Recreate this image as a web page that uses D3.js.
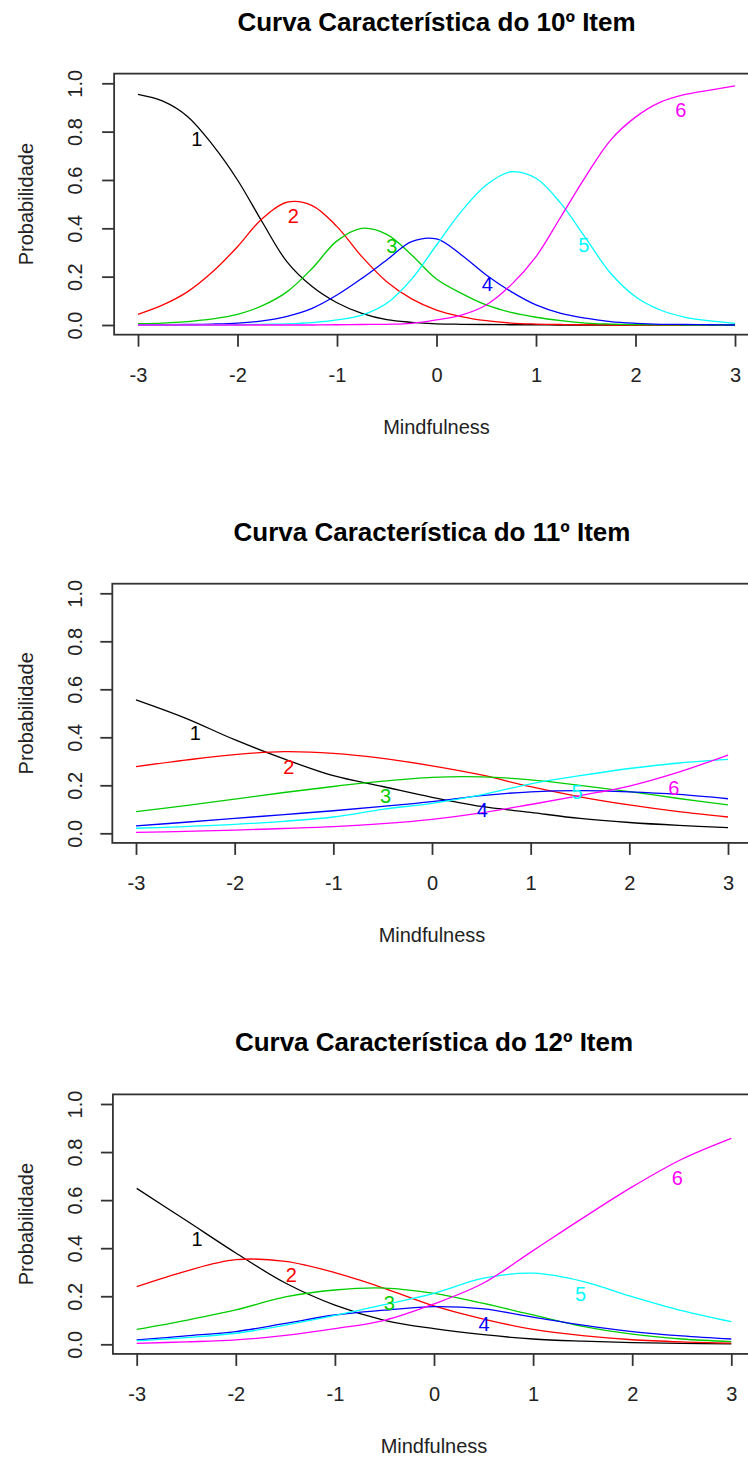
<!DOCTYPE html>
<html>
<head>
<meta charset="utf-8">
<script src="https://cdn.jsdelivr.net/npm/d3@7"></script>
<style>
  body { margin: 0; background: #fff; }
  svg text { font-family: "Liberation Sans", Arial, sans-serif; }
</style>
</head>
<body>
<script>
// ---------------------- DATA ----------------------

const categories = ["1", "2", "3", "4", "5", "6"];
const categoryColors = ["#000000", "#ff0000", "#00cd00", "#0000ff", "#00ffff", "#ff00ff"];
const thetaTicks = [-3, -2, -1, 0, 1, 2, 3];
const probTicks = [0, 0.2, 0.4, 0.6, 0.8, 1];
const probTickLabels = ["0.0", "0.2", "0.4", "0.6", "0.8", "1.0"];

const thetaFine = [-3, -2.75, -2.5, -2.25, -2, -1.75, -1.5, -1.25, -1, -0.75, -0.5, -0.25,
                   0, 0.25, 0.5, 0.75, 1, 1.25, 1.5, 1.75, 2, 2.25, 2.5, 2.75, 3];
const thetaCoarse = [-3, -2.5, -2, -1.5, -1, -0.5, 0, 0.5, 1, 1.5, 2, 2.5, 3];

// item 10, one row per category, read at thetaFine
const item10 = [
  [0.954, 0.926, 0.862, 0.745, 0.6, 0.425, 0.26, 0.159, 0.092, 0.048, 0.022, 0.011, 0.005, 0.003, 0.002, 0.001, 0.001, 0, 0, 0, 0, 0, 0, 0, 0],
  [0.044, 0.083, 0.138, 0.22, 0.324, 0.441, 0.508, 0.494, 0.407, 0.283, 0.179, 0.108, 0.062, 0.035, 0.018, 0.008, 0.004, 0.002, 0.001, 0, 0, 0, 0, 0, 0],
  [0.006, 0.008, 0.014, 0.025, 0.044, 0.08, 0.138, 0.234, 0.348, 0.40, 0.375, 0.29, 0.19, 0.131, 0.083, 0.052, 0.032, 0.018, 0.008, 0.004, 0.002, 0.001, 0, 0, 0],
  [0.001, 0.001, 0.002, 0.004, 0.008, 0.017, 0.036, 0.069, 0.124, 0.193, 0.269, 0.345, 0.356, 0.29, 0.207, 0.138, 0.083, 0.048, 0.028, 0.014, 0.007, 0.003, 0.002, 0.001, 0],
  [0, 0, 0, 0, 0.001, 0.003, 0.005, 0.01, 0.021, 0.041, 0.09, 0.19, 0.331, 0.47, 0.579, 0.634, 0.607, 0.503, 0.359, 0.214, 0.117, 0.062, 0.032, 0.017, 0.007],
  [0, 0, 0, 0, 0, 0, 0, 0, 0.001, 0.002, 0.003, 0.007, 0.021, 0.041, 0.083, 0.166, 0.283, 0.448, 0.615, 0.765, 0.86, 0.922, 0.954, 0.972, 0.989]
];

// item 11, read at thetaCoarse
const item11 = [
  [0.556, 0.48, 0.39, 0.31, 0.24, 0.195, 0.15, 0.112, 0.087, 0.062, 0.045, 0.033, 0.024],
  [0.278, 0.305, 0.328, 0.34, 0.333, 0.312, 0.281, 0.243, 0.194, 0.152, 0.118, 0.09, 0.068],
  [0.09, 0.115, 0.142, 0.17, 0.195, 0.217, 0.233, 0.235, 0.223, 0.2, 0.174, 0.145, 0.118],
  [0.031, 0.046, 0.062, 0.078, 0.094, 0.112, 0.132, 0.157, 0.173, 0.178, 0.173, 0.162, 0.144],
  [0.021, 0.028, 0.037, 0.05, 0.068, 0.1, 0.125, 0.16, 0.206, 0.24, 0.27, 0.293, 0.308],
  [0.004, 0.008, 0.013, 0.02, 0.028, 0.04, 0.058, 0.085, 0.12, 0.157, 0.197, 0.255, 0.326]
];

// item 12, read at thetaCoarse
const item12 = [
  [0.649, 0.515, 0.38, 0.255, 0.163, 0.1, 0.065, 0.04, 0.022, 0.013, 0.007, 0.004, 0.002],
  [0.24, 0.305, 0.352, 0.345, 0.298, 0.233, 0.16, 0.105, 0.062, 0.036, 0.019, 0.01, 0.005],
  [0.062, 0.1, 0.143, 0.197, 0.226, 0.234, 0.212, 0.17, 0.122, 0.075, 0.042, 0.022, 0.011],
  [0.018, 0.035, 0.053, 0.087, 0.122, 0.142, 0.157, 0.147, 0.113, 0.08, 0.053, 0.035, 0.022],
  [0.015, 0.028, 0.046, 0.08, 0.12, 0.165, 0.212, 0.275, 0.296, 0.262, 0.198, 0.14, 0.094],
  [0.004, 0.01, 0.018, 0.037, 0.065, 0.1, 0.168, 0.255, 0.39, 0.525, 0.655, 0.77, 0.857]
];

// where the category numbers sit (theta, probability)
const item10LabelTheta = [-2.41, -1.44, -0.45, 0.51, 1.48, 2.455];
const item10LabelProb = [0.772, 0.45, 0.326, 0.172, 0.331, 0.891];
const item11LabelTheta = [-2.4, -1.45, -0.47, 0.51, 1.47, 2.45];
const item11LabelProb = [0.417, 0.278, 0.158, 0.097, 0.174, 0.188];
const item12LabelTheta = [-2.39, -1.44, -0.45, 0.505, 1.48, 2.455];
const item12LabelProb = [0.441, 0.288, 0.173, 0.087, 0.212, 0.691];

// ---------------------- LAYOUT ----------------------

const WIDTH = 748, HEIGHT = 1458;
const FONT = 20;

const panels = [
  { title: "Curva Característica do 10º Item", theta: thetaFine, curves: item10,
    labelTheta: item10LabelTheta, labelProb: item10LabelProb,
    xAt: [138, 735], yAt: [325, 83.3] },
  { title: "Curva Característica do 11º Item", theta: thetaCoarse, curves: item11,
    labelTheta: item11LabelTheta, labelProb: item11LabelProb,
    xAt: [136, 728], yAt: [833.3, 593.3] },
  { title: "Curva Característica do 12º Item", theta: thetaCoarse, curves: item12,
    labelTheta: item12LabelTheta, labelProb: item12LabelProb,
    xAt: [136.7, 731.3], yAt: [1344.3, 1104] }
];

const svg = d3.select("body").append("svg")
  .attr("width", WIDTH)
  .attr("height", HEIGHT);

// ---------------------- PANEL RENDER ----------------------

function drawPanel(panel) {
  const x = d3.scaleLinear().domain([-3, 3]).range(panel.xAt);
  const y = d3.scaleLinear().domain([0, 1]).range(panel.yAt);

  // R style box: data range plus 4% on each side
  const left = x(-3.24), right = x(3.24), top = y(1.04), bottom = y(-0.04);
  const g = svg.append("g");

  // curves
  const line = d3.line()
    .x(d => x(d[0]))
    .y(d => y(d[1]))
    .curve(d3.curveCatmullRom.alpha(0.5));

  panel.curves.forEach((vals, i) => {
    g.append("path")
      .datum(panel.theta.map((t, j) => [t, vals[j]]))
      .attr("d", line)
      .attr("fill", "none")
      .attr("stroke", categoryColors[i])
      .attr("stroke-width", 1.3);
  });

  // category numbers
  g.selectAll(".cat-label")
    .data(categories)
    .enter().append("text")
    .attr("class", "cat-label")
    .attr("x", (d, i) => x(panel.labelTheta[i]))
    .attr("y", (d, i) => y(panel.labelProb[i]))
    .attr("dy", "0.36em")
    .attr("text-anchor", "middle")
    .attr("font-size", FONT)
    .attr("fill", (d, i) => categoryColors[i])
    .text(d => d);

  // box
  g.append("rect")
    .attr("x", left).attr("y", top)
    .attr("width", right - left).attr("height", bottom - top)
    .attr("fill", "none")
    .attr("stroke", "#333")
    .attr("stroke-width", 1.8);

  // x axis
  const xAxis = g.append("g")
    .attr("transform", `translate(0,${bottom})`)
    .call(d3.axisBottom(x).tickValues(thetaTicks).tickSize(12).tickFormat(d => String(d)));
  xAxis.select(".domain").remove();
  xAxis.selectAll("line").attr("stroke", "#333").attr("stroke-width", 1.8);
  xAxis.selectAll("text")
    .attr("y", 47).attr("dy", null)
    .attr("font-size", FONT)
    .attr("fill", "#222");

  // y axis
  const yAxis = g.append("g")
    .attr("transform", `translate(${left},0)`)
    .call(d3.axisLeft(y).tickValues(probTicks).tickSize(12)
      .tickFormat((d, i) => probTickLabels[i]));
  yAxis.select(".domain").remove();
  yAxis.selectAll("line").attr("stroke", "#333").attr("stroke-width", 1.8);
  yAxis.selectAll("text")
    .attr("x", null).attr("dy", null)
    .attr("transform", `translate(${82 - left},0) rotate(-90)`)
    .attr("text-anchor", "middle")
    .attr("font-size", FONT)
    .attr("fill", "#222");

  // title and axis titles
  g.append("text")
    .attr("x", x(0)).attr("y", top - 43)
    .attr("text-anchor", "middle")
    .attr("font-size", 26)
    .attr("font-weight", "bold")
    .text(panel.title);

  g.append("text")
    .attr("x", x(0)).attr("y", bottom + 99)
    .attr("text-anchor", "middle")
    .attr("font-size", FONT)
    .attr("fill", "#222")
    .text("Mindfulness");

  g.append("text")
    .attr("transform", `translate(33,${y(0.5)}) rotate(-90)`)
    .attr("text-anchor", "middle")
    .attr("font-size", FONT)
    .attr("fill", "#222")
    .text("Probabilidade");
}

panels.forEach(drawPanel);
</script>
</body>
</html>
